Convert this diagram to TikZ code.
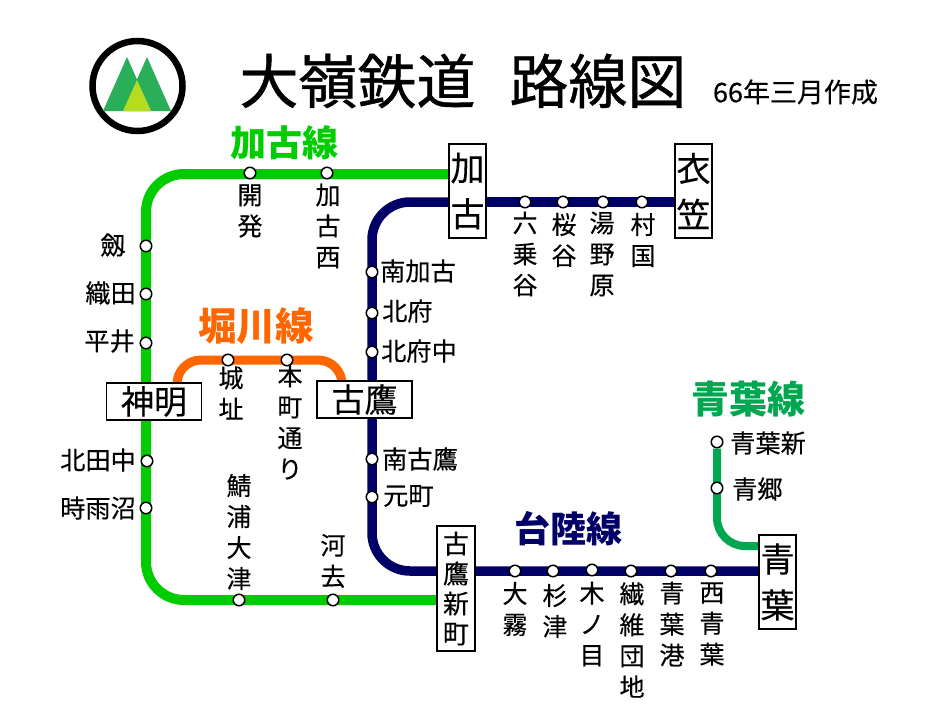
\documentclass[tikz,border=0pt]{standalone}
\usepackage{fontspec}
\setmainfont{Noto Sans CJK JP}
\newfontfamily\titlefont[FakeBold=0.7]{Noto Sans CJK JP}
\newfontfamily\namefont[FakeBold=0.25]{Noto Sans CJK JP}
\usetikzlibrary{backgrounds}
\definecolor{kakoG}{HTML}{00CC00}
\definecolor{riku}{HTML}{000066}
\definecolor{hori}{HTML}{FF6600}
\definecolor{aoba}{HTML}{00A650}
\definecolor{mtn}{HTML}{2BAE5A}
\definecolor{mtnl}{HTML}{B5DC20}
\tikzset{
  x=1pt,y=-1pt,
  stop/.style={circle,draw=black,fill=white,line width=1.5pt,minimum size=11.5pt,inner sep=0pt},
  lab/.style={font=\namefont\fontsize{25}{31}\selectfont,align=center,inner sep=0pt},
  hlab/.style={font=\namefont\fontsize{25.2}{30}\selectfont,inner sep=0pt},
  hub/.style={draw=black,fill=white,line width=1.4pt,inner sep=0pt,align=center},
  hubv/.style={hub,minimum width=37pt,minimum height=94pt,font=\namefont\fontsize{34}{46}\selectfont},
  hubh/.style={hub,minimum width=95pt,minimum height=37pt,font=\namefont\fontsize{33}{36}\selectfont},
  linename/.style={font=\fontsize{36}{38}\selectfont\bfseries,inner sep=0pt},
  track/.style={line width=10pt,rounded corners=38pt},
}
\begin{document}
\begin{tikzpicture}
\useasboundingbox (0,0) rectangle (941,720);
% emblem
\node[circle,draw=black,line width=6.5pt,minimum size=90pt,inner sep=0pt] (emblem) at (137.5,86) {};
\fill[mtn] (127,57) -- (151,111) -- (103,111) -- cycle;
\fill[mtn] (147,57) -- (171,111) -- (123,111) -- cycle;
\fill[mtnl] (137,80) -- (151,111) -- (123,111) -- cycle;
% heading
\node[inner sep=0pt,font=\titlefont\fontsize{59}{60}\selectfont] (title) at (463,81) {大嶺鉄道\hspace{34pt}路線図};
\node[inner sep=0pt,font=\namefont\fontsize{27}{28}\selectfont] (date) at (795.5,92) {66年三月作成};
% line names
\node[linename,text=kakoG] (nKako) at (284,143) {加古線};
\node[linename,text=hori,font=\fontsize{38.5}{40}\selectfont\bfseries] (nHori) at (256,326) {堀川線};
\node[linename,text=aoba,font=\fontsize{38}{40}\selectfont\bfseries] (nAoba) at (748,399) {青葉線};
\node[linename,text=riku] (nRiku) at (568,529) {台陸線};
% interchange stations
\node[hubv] (kako) at (467.5,191) {加\\古};
\node[hubv] (kinu) at (693.5,191) {衣\\笠};
\node[hubh] (shinmei) at (154,401.5) {神明};
\node[hubh] (furu) at (364.5,399.5) {古鷹};
\node[hub,minimum width=38pt,minimum height=125pt,font=\namefont\fontsize{26}{30}\selectfont] (shinfuru) at (456,588.5) {古\\鷹\\新\\町};
\node[hubv] (aobaSt) at (777.5,582) {青\\葉};
% stops: Kako line
\node[stop] (kaihatsu) at (250,173) {};
\node[stop] (kakonishi) at (327,173) {};
\node[stop] (tsurugi) at (146,246) {};
\node[stop] (orita) at (146,294) {};
\node[stop] (hirai) at (146,343) {};
\node[stop] (kitada) at (147,461) {};
\node[stop] (shigure) at (146,508) {};
\node[stop] (sabaura) at (239,600) {};
\node[stop] (kawasa) at (333,600) {};
% stops: Horikawa line
\node[stop] (joshi) at (228,360) {};
\node[stop] (honmachi) at (287,360) {};
% stops: Tairiku line
\node[stop] (minamikako) at (372,272) {};
\node[stop] (kitafu) at (372,313) {};
\node[stop] (kitafunaka) at (372,352) {};
\node[stop] (minamifuru) at (372,459) {};
\node[stop] (motomachi) at (372,497) {};
\node[stop] (rokujo) at (525,202) {};
\node[stop] (sakura) at (563,202) {};
\node[stop] (yuno) at (603,202) {};
\node[stop] (mura) at (642,202) {};
\node[stop] (okiri) at (515,571) {};
\node[stop] (sugitsu) at (553,571) {};
\node[stop] (kinome) at (592,570) {};
\node[stop] (seni) at (631,571) {};
\node[stop] (aobako) at (671,571) {};
\node[stop] (nishiaoba) at (711,571) {};
% stops: Aoba line
\node[stop] (aobashin) at (717,442) {};
\node[stop] (aogo) at (717,488) {};
% bends
\coordinate (g1) at (146,174);
\coordinate (g2) at (146,600);
\coordinate (g3) at (449,174);
\coordinate (g4) at (437,600);
\coordinate (r1) at (372,202);
\coordinate (r2) at (372,571);
\coordinate (r3) at (449,202);
\coordinate (r4) at (759,571);
\coordinate (o0) at (177,383);
\coordinate (o1) at (177,360);
\coordinate (o2) at (342,360);
\coordinate (o3) at (342,381);
\coordinate (a1) at (717,546);
\coordinate (a2) at (759,546);
% tracks, under the stops and station boxes
\begin{pgfonlayer}{background}
\draw[track,kakoG] (g3) -- (g1) -- (g2) -- (g4);
\draw[track,riku,line width=9.5pt] (r3) -- (r1) -- (r2) -- (r4);
\draw[riku,line width=9.5pt] (kako.east |- mura) -- (kinu.west |- mura);
\draw[track,hori,rounded corners=24pt,line width=9pt] (o0) -- (o1) -- (o2) -- (o3);
\draw[track,aoba,line width=8pt,rounded corners=28pt] (aobashin) -- (a1) -- (a2);
\end{pgfonlayer}
% stop labels
\node[lab] (l1) at (250,211) {開\\発};
\node[lab] (l2) at (328,226) {加\\古\\西};
\node[hlab] (l3) at (113,245) {劔};
\node[hlab,anchor=east] (l4) at (136,293) {織田};
\node[hlab,anchor=east] (l5) at (135,341) {平井};
\node[hlab,anchor=east] (l6) at (136,460) {北田中};
\node[hlab,anchor=east] (l7) at (136,508) {時雨沼};
\node[lab] (l8) at (231,393) {城\\址};
\node[lab] (l9) at (290,422) {本\\町\\通\\り};
\node[lab] (l10) at (239,532) {鯖\\浦\\大\\津};
\node[lab] (l11) at (333,561) {河\\去};
\node[hlab,anchor=west] (l12) at (380,271) {南加古};
\node[hlab,anchor=west] (l13) at (382,311) {北府};
\node[hlab,anchor=west] (l14) at (381,351) {北府中};
\node[hlab,anchor=west] (l15) at (382,459) {南古鷹};
\node[hlab,anchor=west] (l16) at (383,496) {元町};
\node[lab] (l17) at (525,254) {六\\乗\\谷};
\node[lab] (l18) at (564,240) {桜\\谷};
\node[lab] (l19) at (602,254) {湯\\野\\原};
\node[lab] (l20) at (643,240) {村\\国};
\node[lab] (l21) at (515,609) {大\\霧};
\node[lab] (l22) at (555,611) {杉\\津};
\node[lab] (l23) at (592,624) {木\\ノ\\目};
\node[lab] (l24) at (632,640) {繊\\維\\団\\地};
\node[lab] (l25) at (672,624) {青\\葉\\港};
\node[lab] (l26) at (712,624) {西\\青\\葉};
\node[hlab,anchor=west] (l27) at (730,443) {青葉新};
\node[hlab,anchor=west] (l28) at (732,489) {青郷};
\end{tikzpicture}
\end{document}
